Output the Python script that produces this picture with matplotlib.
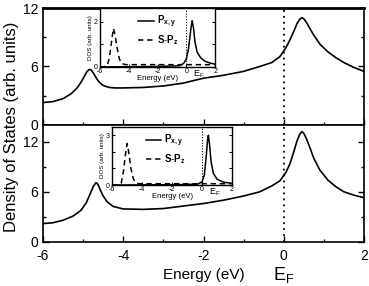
import matplotlib
matplotlib.use("Agg")
import matplotlib.pyplot as plt
from matplotlib.ticker import MultipleLocator

plt.rcParams['font.family'] = ['Liberation Sans', 'DejaVu Sans']
plt.rcParams['mathtext.fontset'] = 'custom'
plt.rcParams['mathtext.rm'] = 'Liberation Sans'
plt.rcParams['mathtext.bf'] = 'Liberation Sans:bold'
plt.rcParams['mathtext.default'] = 'regular'

# main panels: total DOS
top_e = [-6.0, -5.75, -5.5, -5.3, -5.15, -5.05, -4.97, -4.9, -4.85, -4.8, -4.74, -4.67,
         -4.6, -4.5, -4.35, -4.2, -4.0, -3.5, -3.0, -2.5, -2.0, -1.5, -1.0, -0.6,
         -0.3, -0.1, 0.05, 0.15, 0.25, 0.33, 0.4, 0.45, 0.5, 0.57, 0.65, 0.75, 0.9,
         1.1, 1.3, 1.5, 1.75, 2.0]
top_dos = [2.3, 2.4, 2.7, 3.2, 3.8, 4.4, 5.0, 5.5, 5.7, 5.65, 5.3, 4.8,
           4.4, 4.05, 3.85, 3.8, 3.8, 3.85, 4.0, 4.3, 4.8, 5.1, 5.5, 6.0,
           6.4, 7.0, 7.9, 8.7, 9.6, 10.4, 10.85, 11.0, 10.9, 10.5, 9.9, 9.2, 8.3,
           7.5, 6.9, 6.4, 5.9, 5.5]

bot_e = [-6.0, -5.75, -5.5, -5.25, -5.05, -4.92, -4.82, -4.74, -4.68, -4.63, -4.57, -4.5,
         -4.4, -4.25, -4.0, -3.5, -3.0, -2.5, -2.0, -1.5, -1.0, -0.6, -0.3, -0.1,
         0.05, 0.15, 0.25, 0.33, 0.4, 0.45, 0.5, 0.57, 0.65, 0.75, 0.9, 1.1, 1.3,
         1.5, 1.75, 2.0]
bot_dos = [2.2, 2.3, 2.6, 3.1, 3.8, 4.7, 5.8, 6.7, 7.1, 6.9, 6.2, 5.5,
           4.8, 4.25, 3.95, 3.9, 4.0, 4.3, 4.6, 5.0, 5.5, 6.0, 6.7, 7.3,
           8.3, 9.3, 10.8, 12.1, 12.9, 13.2, 13.0, 12.3, 11.3, 10.0, 8.6, 7.4, 6.6,
           6.0, 5.6, 5.3]

# insets: projected DOS
ins1_spz_e = [-6.0, -5.8, -5.5, -5.35, -5.2, -5.07, -4.95, -4.8, -4.65, -4.5, -4.2, -3.0, -1.0, 0.0, 1.0, 2.0]
ins1_spz = [0.0, 0.0, 0.05, 0.4, 1.1, 1.7, 1.4, 0.8, 0.35, 0.15, 0.1, 0.1, 0.1, 0.1, 0.1, 0.1]
ins1_pxy_e = [-6.0, -2.0, -0.5, -0.2, 0.0, 0.15, 0.3, 0.4, 0.5, 0.6, 0.75, 1.0, 1.3, 1.6, 2.0]
ins1_pxy = [0.0, 0.02, 0.05, 0.15, 0.35, 0.8, 1.6, 2.04, 1.7, 1.1, 0.65, 0.4, 0.25, 0.18, 0.12]

ins2_spz_e = [-6.0, -5.7, -5.4, -5.25, -5.12, -5.0, -4.9, -4.75, -4.6, -4.45, -4.2, -3.0, -1.0, 0.0, 1.0, 2.0]
ins2_spz = [0.0, 0.0, 0.1, 0.8, 1.8, 2.5, 2.0, 1.0, 0.4, 0.15, 0.08, 0.08, 0.08, 0.08, 0.08, 0.08]
ins2_pxy_e = [-6.0, -2.0, -0.3, 0.0, 0.15, 0.28, 0.38, 0.42, 0.5, 0.6, 0.75, 1.0, 1.4, 2.0]
ins2_pxy = [0.0, 0.02, 0.05, 0.2, 0.6, 1.8, 2.9, 3.0, 2.4, 1.4, 0.7, 0.35, 0.18, 0.1]

fig = plt.figure(figsize=(3.69, 2.86), dpi=100)
ax1 = fig.add_axes([0.1165, 0.563, 0.870, 0.409])
ax2 = fig.add_axes([0.1165, 0.154, 0.870, 0.409])

for ax, e, d, ymax in [(ax1, top_e, top_dos, 12), (ax2, bot_e, bot_dos, 14)]:
    ax.plot(e, d, color='black', lw=1.2)
    ax.axvline(0, color='black', lw=1.3, ls=(0, (1, 2.3)))
    ax.set_xlim(-6, 2)
    ax.set_ylim(0, ymax)
    ax.xaxis.set_major_locator(MultipleLocator(2))
    ax.xaxis.set_minor_locator(MultipleLocator(1))
    ax.yaxis.set_major_locator(MultipleLocator(6))
    ax.yaxis.set_minor_locator(MultipleLocator(3))
    ax.tick_params(which='both', direction='in', right=True, top=False, labelsize=10)
    ax.tick_params(which='major', length=4, width=1)
    ax.tick_params(which='minor', length=2.5, width=1)
    ax.tick_params(axis='x', pad=5)
    for s in ax.spines.values():
        s.set_linewidth(1.2)
    ax.set_yticks([0, 6, 12])

ax1.spines['top'].set_linewidth(2.0)
ax1.tick_params(labelbottom=False)
ax2.set_xticks([-6, -4, -2, 0, 2])
ax2.set_xticklabels(['-6', '-4', '-2', '0', '2'])
ax2.set_xlabel('Energy (eV)', fontsize=11, labelpad=4)
ax2.text(0, -0.2, r'E$_F$', transform=ax2.get_xaxis_transform(),
         ha='center', va='top', fontsize=13)
fig.text(0.03, 0.555, 'Density of States (arb. units)', rotation=90,
         ha='center', va='center', fontsize=12)

in1 = fig.add_axes([0.271, 0.766, 0.312, 0.206])
in2 = fig.add_axes([0.304, 0.353, 0.325, 0.203])
for ax, pe, p, se, s, ymax, yt, anch in [
        (in1, ins1_pxy_e, ins1_pxy, ins1_spz_e, ins1_spz, 2.6, [0, 2], 0.74),
        (in2, ins2_pxy_e, ins2_pxy, ins2_spz_e, ins2_spz, 3.5, [0, 3], 0.67)]:
    ax.plot(pe, p, color='black', lw=1.1, label=r'$\mathbf{P_{x,y}}$')
    ax.plot(se, s, color='black', lw=1.1, ls=(0, (3.5, 2.5)), label=r'$\mathbf{S\text{-}P_z}$')
    ax.axvline(0, color='black', lw=0.8, ls=(0, (1, 1.5)))
    ax.set_xlim(-6, 2)
    ax.set_ylim(0, ymax)
    ax.set_xticks([-6, -4, -2, 0, 2])
    ax.set_xticklabels(['-6', '-4', '-2', '0', '2'])
    ax.set_yticks(yt)
    ax.set_yticks([0, 1, 2, 3][:int(ymax) + 1], minor=True)
    ax.tick_params(which='both', direction='in', right=True, labelsize=5,
                   length=2, width=0.7, pad=1)
    ax.tick_params(axis='y', pad=1.5)
    ax.tick_params(which='minor', labelleft=False)
    for sp in ax.spines.values():
        sp.set_linewidth(1.0)
    ax.set_xlabel('Energy (eV)', fontsize=5.5, labelpad=0)
    ax.set_ylabel('DOS (arb. units)', fontsize=4.5, labelpad=1)
    ax.text(0.45, -0.03, r'E$_F$', transform=ax.get_xaxis_transform(),
            ha='left', va='top', fontsize=6.5)
    ax.legend(loc='upper right', bbox_to_anchor=(anch, 1.02), frameon=False,
              fontsize=7, handlelength=1.6, handletextpad=0.3, labelspacing=0.3,
              borderpad=0.2)

fig.savefig('out.png', dpi=100)
